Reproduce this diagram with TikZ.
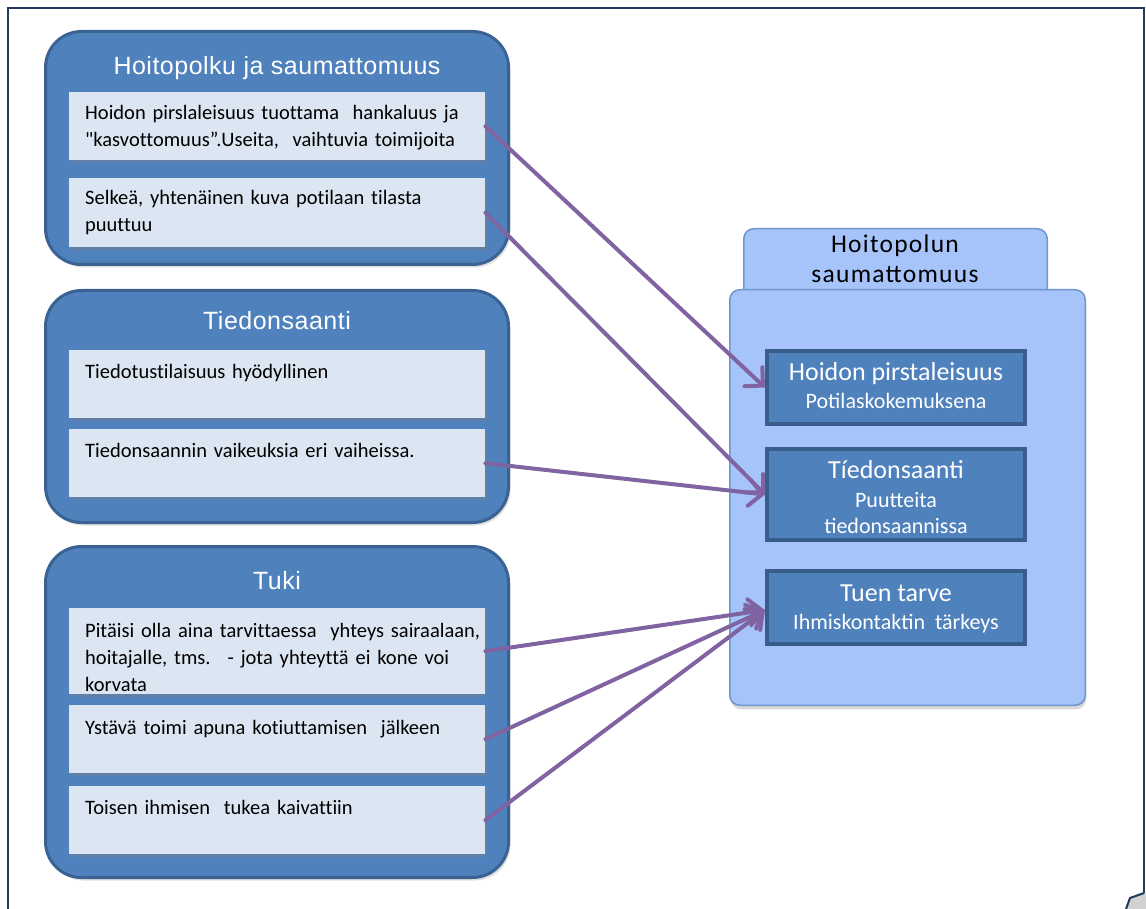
\documentclass[tikz,border=0pt]{standalone}
\usepackage{fontspec}
\setmainfont{Carlito}
\newfontfamily\cellfont[Ligatures={TeXOff,CommonOff}]{Carlito}
\newfontfamily\grpfont[LetterSpace=2]{Liberation Sans}
\newfontfamily\tabfont[LetterSpace=5]{Carlito}
\usetikzlibrary{arrows.meta,shadows}
\definecolor{grpfill}{HTML}{4F81BD}
\definecolor{grpline}{HTML}{3A6394}
\definecolor{cellfill}{HTML}{DCE6F2}
\definecolor{panelfill}{HTML}{A6C4FA}
\definecolor{panelline}{HTML}{6F95CF}
\definecolor{themeline}{HTML}{385D8A}
\definecolor{linkc}{HTML}{8064A2}
\definecolor{framec}{HTML}{1F3A5A}
\begin{document}
\begin{tikzpicture}[x=1pt,y=-1pt,
  group/.style={draw=grpline, line width=3pt, fill=grpfill, rounded corners=36pt,
    minimum width=463pt, anchor=north west, inner sep=0pt,
    drop shadow={shadow xshift=2pt,shadow yshift=-3pt,opacity=.25}},
  grptitle/.style={anchor=base, inner sep=0pt, text=white, font=\grpfont\fontsize{25}{30}\selectfont},
  cell/.style={fill=cellfill, minimum width=416pt, anchor=north west, inner sep=0pt,
    drop shadow={shadow xshift=2pt,shadow yshift=-3pt,opacity=.35}},
  celltext/.style={anchor=base west, inner sep=0pt, text width=400pt, align=left,
    font=\cellfont\fontsize{20.5}{27}\selectfont},
  tab/.style={draw=panelline, line width=1.5pt, fill=panelfill, rounded corners=10pt,
    minimum width=303.5pt, minimum height=80pt, anchor=north west, inner sep=0pt},
  tabtext/.style={anchor=base, inner sep=0pt, font=\tabfont\fontsize{25.5}{30}\selectfont},
  panel/.style={draw=panelline, line width=1.5pt, fill=panelfill, rounded corners=10pt,
    minimum width=355.5pt, minimum height=415.5pt, anchor=north west, inner sep=0pt,
    drop shadow={shadow xshift=1pt,shadow yshift=-4pt,opacity=.3}},
  theme/.style={draw=themeline, line width=4pt, fill=grpfill, minimum width=258pt, inner sep=0pt},
  themehead/.style={anchor=base, inner sep=0pt, text=white, font=\fontsize{26}{30}\selectfont},
  themesub/.style={anchor=base, inner sep=0pt, text=white, font=\fontsize{22}{26}\selectfont},
  link/.style={draw=linkc, line width=4pt, line cap=round,
    -{Straight Barb[length=13pt,width=26pt,line cap=round]}}
]
\useasboundingbox (0,0) rectangle (1146,909);

% page frame with the curled corner
\draw[framec, line width=2pt] (8,909) -- (8,8) -- (1144,8) -- (1144,893);
\fill[gray!35] (1130,898) -- (1144,893) -- (1146,893) -- (1146,909) -- (1126,909) -- cycle;
\draw[framec, line width=2pt, line join=round] (1126,909) -- (1130,898) -- (1144,893);

% left column: three groups of observations
\node[group, minimum height=233pt] (g1) at (44,30) {};
\node[grptitle] (g1t) at (277,75) {Hoitopolku ja saumattomuus};
\node[cell, minimum height=68pt] (h1) at (69,92) {};
\node[celltext] (h1t) at (85,120) {Hoidon pirslaleisuus tuottama \ hankaluus ja\\"kasvottomuus”.Useita, \ vaihtuvia toimijoita};
\node[cell, minimum height=69pt] (h2) at (69,178) {};
\node[celltext] (h2t) at (85,205) {Selkeä, yhtenäinen kuva potilaan tilasta\\puuttuu};

\node[group, minimum height=232pt] (g2) at (44,289) {};
\node[grptitle] (g2t) at (277,330) {Tiedonsaanti};
\node[cell, minimum height=68pt] (t1) at (69,350) {};
\node[celltext] (t1t) at (85,378) {Tiedotustilaisuus hyödyllinen};
\node[cell, minimum height=68pt] (t2) at (69,429) {};
\node[celltext] (t2t) at (85,457) {Tiedonsaannin vaikeuksia eri vaiheissa.};

\node[group, minimum height=331pt] (g3) at (44,545) {};
\node[grptitle] (g3t) at (277,589) {Tuki};
\node[cell, minimum height=86pt] (k1) at (69,608) {};
\node[celltext] (k1t) at (85,637) {Pitäisi olla aina tarvittaessa \ yhteys sairaalaan,\\hoitajalle, tms. \ - jota yhteyttä ei kone voi\\korvata};
\node[cell, minimum height=68pt] (k2) at (69,705) {};
\node[celltext] (k2t) at (85,734) {Ystävä toimi apuna kotiuttamisen \ jälkeen};
\node[cell, minimum height=68pt] (k3) at (69,786) {};
\node[celltext] (k3t) at (85,814) {Toisen ihmisen \ tukea kaivattiin};

% right column: themes
\node[tab] (tab) at (743,228) {};
\node[tabtext] (tab1) at (895,253) {Hoitopolun};
\node[tabtext] (tab2) at (895,283) {saumattomuus};
\node[panel] (panel) at (729,289) {};

\node[theme, minimum height=73pt] (tA) at (896,387.5) {};
\node[themehead] (tA1) at (896,381) {Hoidon pirstaleisuus};
\node[themesub] (tA2) at (896,408) {Potilaskokemuksena};

\node[theme, minimum height=91pt] (tB) at (896,494.5) {};
\node[themehead] (tB1) at (896,478) {Tíedonsaanti};
\node[themesub] (tB2) at (896,507) {Puutteita};
\node[themesub] (tB3) at (896,533) {tiedonsaannissa};

\node[theme, minimum height=73pt] (tC) at (896,607.5) {};
\node[themehead] (tC1) at (896,601) {Tuen tarve};
\node[themesub] (tC2) at (896,629) {Ihmiskontaktin \ tärkeys};

% links from observations to themes
\draw[link] (h1.east) -- (tA.west);
\draw[link] (h2.east) -- (tB.west);
\draw[link] (t2.east) -- (tB.west);
\draw[link] (k1.east) -- ([yshift=-2.5pt]tC.west);
\draw[link] (k2.east) -- ([yshift=-2.5pt]tC.west);
\draw[link] (k3.east) -- ([yshift=-2.5pt]tC.west);
\end{tikzpicture}
\end{document}
